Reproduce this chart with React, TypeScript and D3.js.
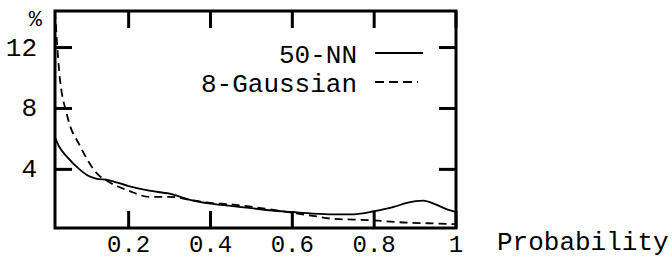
import * as d3 from 'd3';

const probability = [0.02, 0.03, 0.05, 0.08, 0.1, 0.12, 0.15, 0.2, 0.25, 0.3, 0.35, 0.4, 0.45, 0.5, 0.55, 0.6, 0.65, 0.7, 0.75, 0.8, 0.85, 0.88, 0.92, 0.95, 0.98, 1.0];
const nn50 = [6.1, 5.5, 4.8, 4.0, 3.6, 3.4, 3.3, 2.9, 2.6, 2.4, 2.0, 1.75, 1.6, 1.45, 1.3, 1.2, 1.1, 1.05, 1.05, 1.25, 1.55, 1.8, 1.95, 1.7, 1.35, 1.2];
const gauss8 = [14.4, 10.5, 7.5, 5.6, 4.6, 3.8, 3.2, 2.6, 2.2, 2.2, 2.0, 1.8, 1.7, 1.55, 1.35, 1.15, 0.95, 0.75, 0.7, 0.65, 0.55, 0.5, 0.47, 0.45, 0.42, 0.4];
const xTicks = [0.2, 0.4, 0.6, 0.8, 1];
const xTickLabels = ['0.2', '0.4', '0.6', '0.8', '1'];
const yTicks = [4, 8, 12];
const legendNames = ['50-NN', '8-Gaussian'];

const W = 672;
const H = 260;
const left = 55, right = 456, top = 11, bottom = 228;
const FONT = '"Liberation Mono", "DejaVu Sans Mono", monospace';

const x = d3.scaleLinear().domain([0.02, 1]).range([left, right]);
const y = d3.scaleLinear().domain([0.15, 14.4]).range([bottom, top]);

const line = d3.line<number>()
  .x((d, i) => x(probability[i]))
  .y((d) => y(d))
  .curve(d3.curveMonotoneX);

// inward ticks on all four sides
const tl = 17;
const tw = 3;

const App = () => {
  const legY = [55, 84];
  return (
    <svg width={W} height={H} fontFamily={FONT} fontSize={26}
      style={{ position: 'absolute', left: 0, top: 0, background: '#fff' }}>
      <clipPath id="plot">
        <rect x={left} y={top} width={right - left} height={bottom - top} />
      </clipPath>
      <g clipPath="url(#plot)" fill="none" stroke="#000" strokeWidth={1.8}>
        <path d={line(nn50) ?? ''} />
        <path d={line(gauss8) ?? ''} strokeDasharray="8,5" />
      </g>

      <rect x={left} y={top} width={right - left} height={bottom - top}
        fill="none" stroke="#000" strokeWidth={3} />

      <g fill="#000">
        {xTicks.map((t) => (
          <g key={'xt' + t}>
            <rect x={x(t) - tw / 2} y={bottom - tl} width={tw} height={tl} />
            <rect x={x(t) - tw / 2} y={top} width={tw} height={tl} />
          </g>
        ))}
        {yTicks.map((t) => (
          <g key={'yt' + t}>
            <rect x={left} y={y(t) - tw / 2} width={tl} height={tw} />
            <rect x={right - tl} y={y(t) - tw / 2} width={tl} height={tw} />
          </g>
        ))}
      </g>

      {yTicks.map((t) => (
        <text key={'yl' + t} x={37} y={y(t) + 8} textAnchor="end">{String(t)}</text>
      ))}
      <text x={42} y={26} textAnchor="end" fontSize={22}>%</text>

      {xTicks.map((t, i) => (
        <text key={'xl' + t} x={x(t)} y={252} textAnchor="middle" fontSize={24}>{xTickLabels[i]}</text>
      ))}
      <text x={497} y={250}>Probability</text>

      {legendNames.map((name, i) => (
        <g key={name}>
          <text x={357} y={legY[i] + 8} textAnchor="end">{name}</text>
          <line x1={375} x2={i === 0 ? 423 : 418} y1={legY[i] - 2} y2={legY[i] - 2}
            stroke="#000" strokeWidth={1.8}
            strokeDasharray={i === 0 ? undefined : '9,5'} />
        </g>
      ))}
    </svg>
  );
};

export default App;
